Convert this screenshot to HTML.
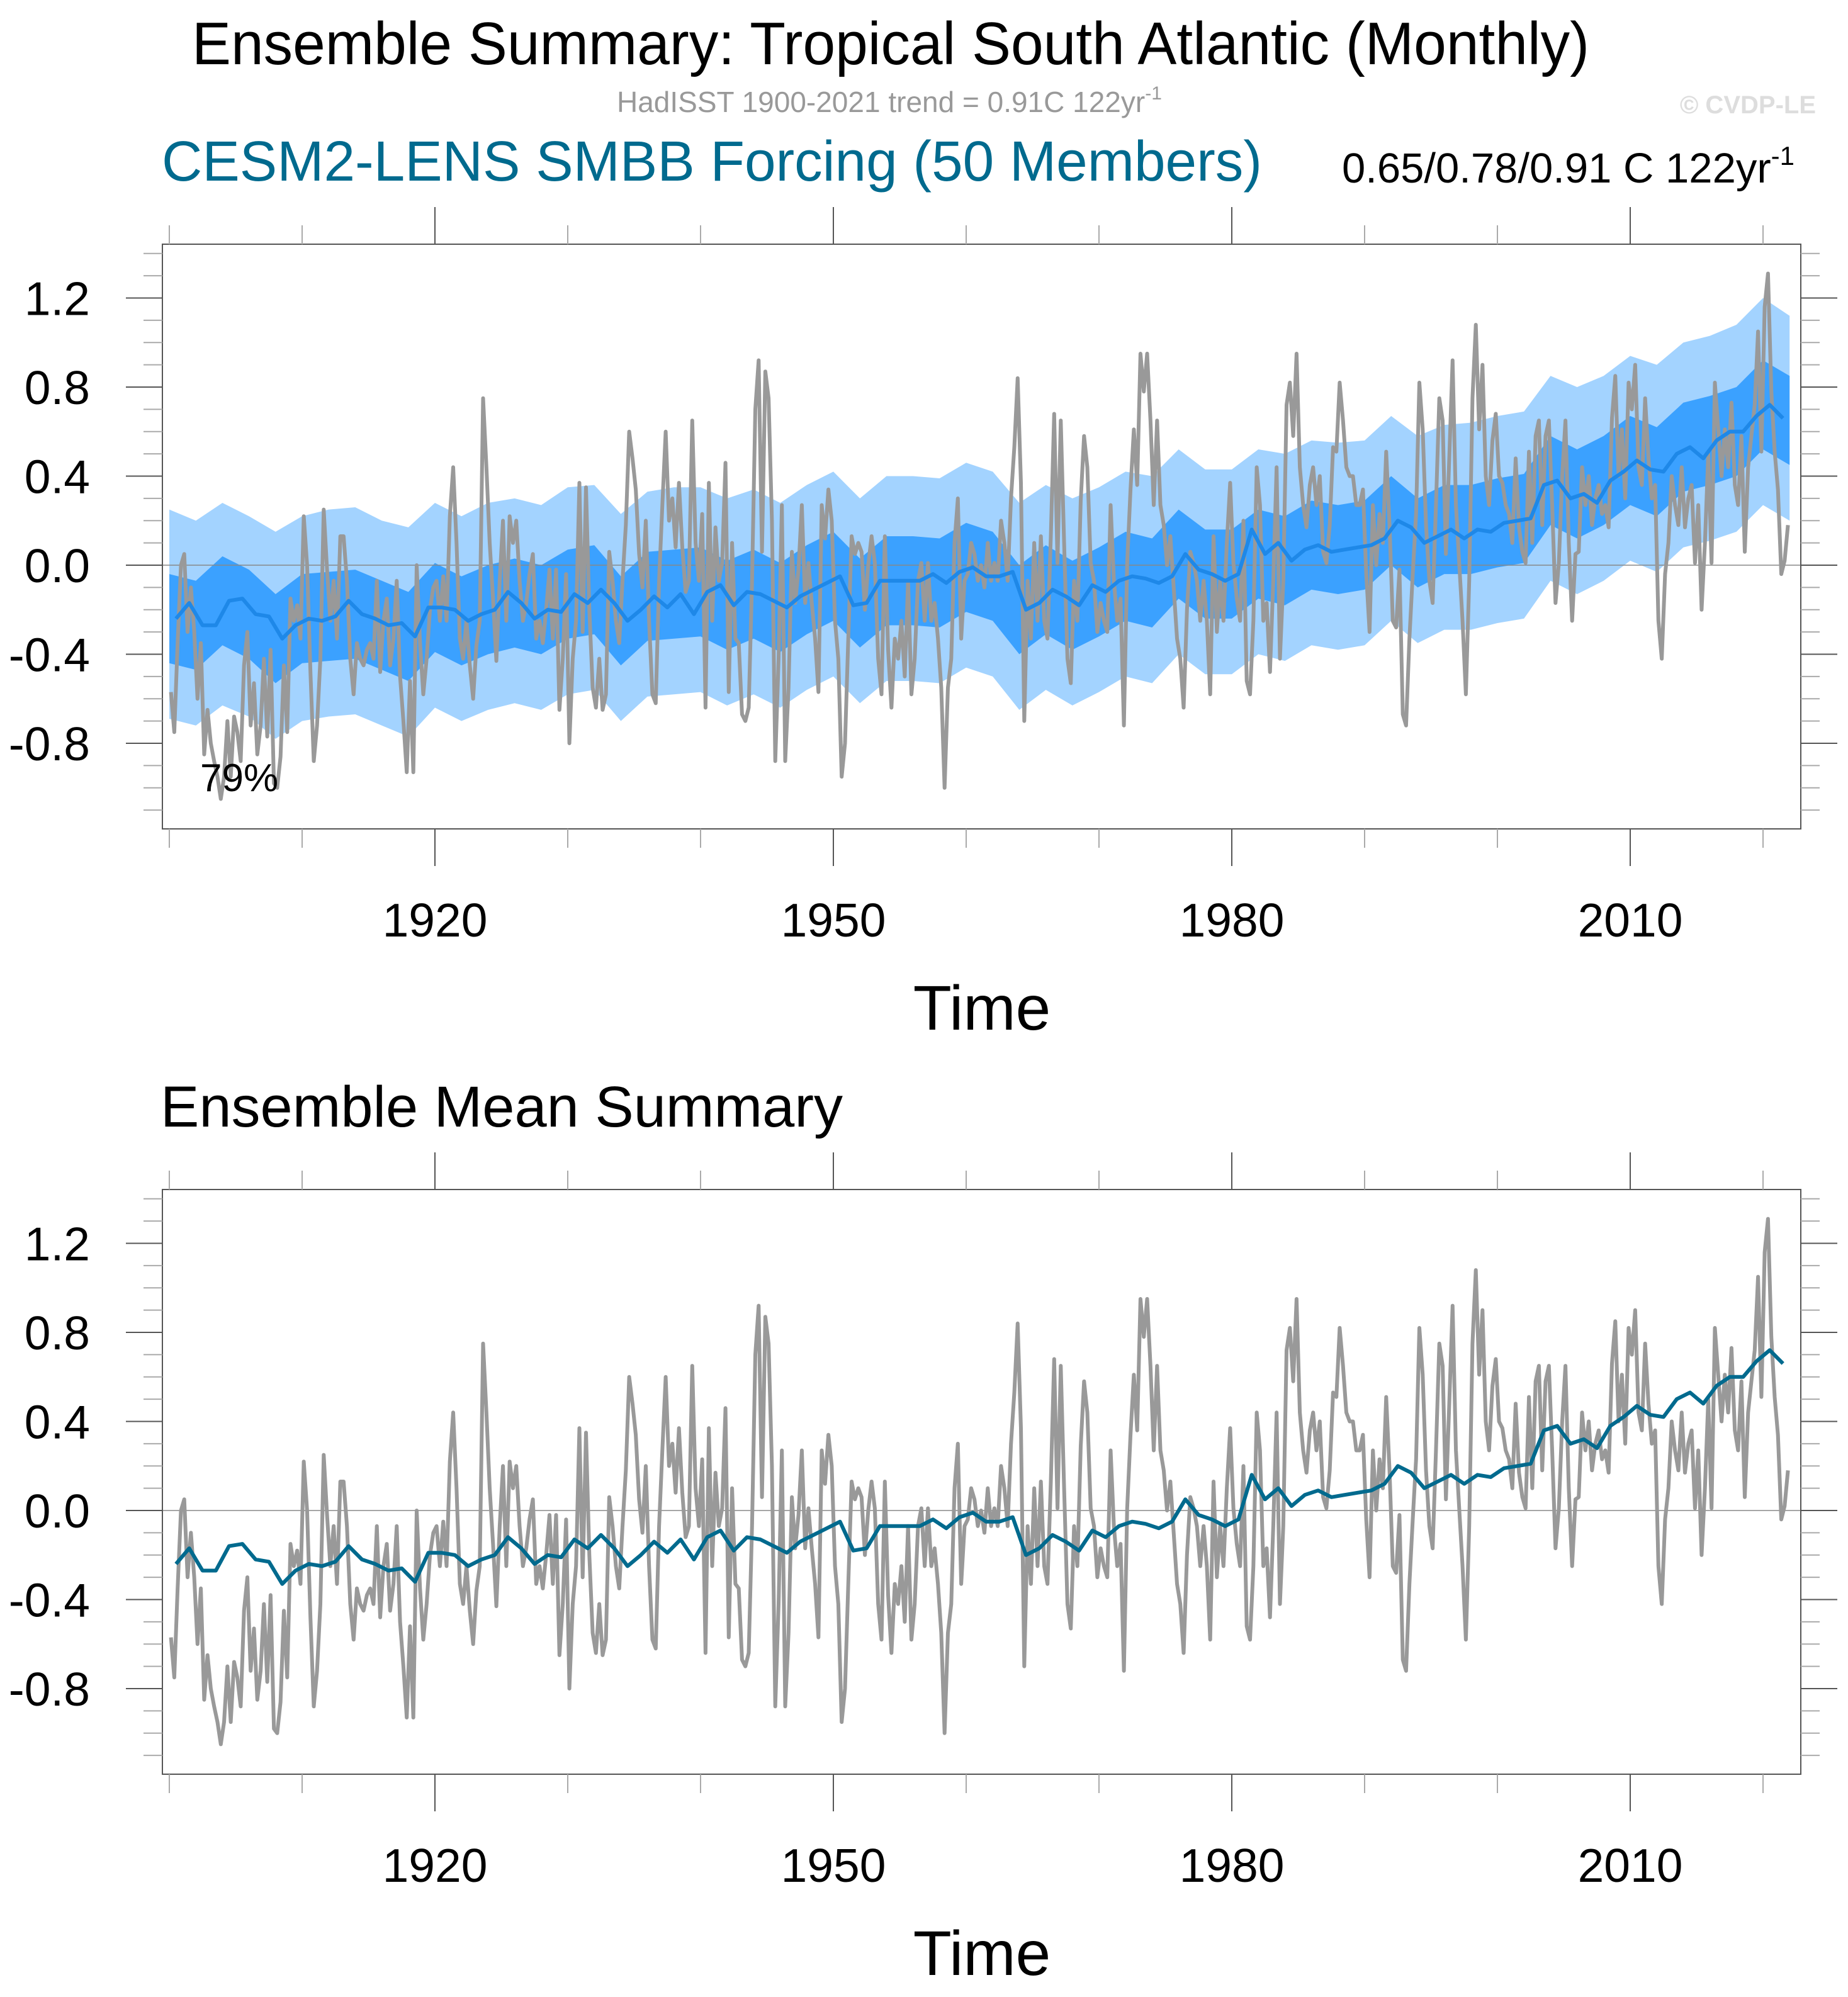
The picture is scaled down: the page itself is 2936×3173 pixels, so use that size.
<!DOCTYPE html>
<html><head><meta charset="utf-8"><style>
html,body{margin:0;padding:0;background:#fff;}
svg{display:block;font-family:"Liberation Sans",Arial,sans-serif;}
</style></head><body>
<svg id="chart" width="2936" height="3173" viewBox="0 0 2936 3173" xmlns="http://www.w3.org/2000/svg">
<rect width="2936" height="3173" fill="#fff"/>
<text x="305" y="102" font-size="96" textLength="2220" lengthAdjust="spacingAndGlyphs">Ensemble Summary: Tropical South Atlantic (Monthly)</text>
<text x="980" y="178" font-size="46" fill="#999">HadISST 1900-2021 trend = 0.91C 122yr<tspan font-size="30" dy="-20">-1</tspan></text>
<text x="2885" y="180" font-size="40" font-weight="bold" fill="#ddd" text-anchor="end">© CVDP-LE</text>
<text x="257" y="287" font-size="90" fill="#006a8e" textLength="1748" lengthAdjust="spacingAndGlyphs">CESM2-LENS SMBB Forcing (50 Members)</text>
<text x="2132" y="290" font-size="67">0.65/0.78/0.91 C 122yr<tspan font-size="42" dy="-28">-1</tspan></text>
<text x="255" y="1790" font-size="92">Ensemble Mean Summary</text>
<g id="p1"></g><g id="p2"></g>
</svg>
<script>
const yearStart = 1900;
const yTicks = [-0.8,-0.4,0.0,0.4,0.8,1.2];
const yTickLabels = ["-0.8","-0.4","0.0","0.4","0.8","1.2"];
const xTickYears = [1900,1910,1920,1930,1940,1950,1960,1970,1980,1990,2000,2010,2020];
const xLabelYears = [1920,1950,1980,2010];
const obsQuarterly = [
-0.57,-0.75,-0.35,0.0, 0.05,-0.3,-0.1,-0.3, -0.6,-0.35,-0.85,-0.65, -0.8,-0.88,-0.95,-1.05, -0.95,-0.7,-0.95,-0.68,
-0.75,-0.88,-0.45,-0.3, -0.72,-0.53,-0.85,-0.72, -0.42,-0.77,-0.38,-0.98, -1.0,-0.86,-0.45,-0.75, -0.15,-0.25,-0.18,-0.33,
0.22,0.0,-0.48,-0.88, -0.72,-0.42,0.25,-0.02, -0.25,-0.07,-0.33,0.13, 0.13,-0.07,-0.42,-0.58, -0.35,-0.42,-0.45,-0.38,
-0.35,-0.42,-0.07,-0.48, -0.25,-0.15,-0.45,-0.33, -0.07,-0.5,-0.7,-0.93, -0.52,-0.93,0.0,-0.35, -0.58,-0.42,-0.2,-0.1,
-0.07,-0.25,-0.05,-0.25, 0.22,0.44,0.1,-0.33, -0.42,-0.25,-0.45,-0.6, -0.36,-0.25,0.75,0.44, 0.1,-0.15,-0.43,-0.07,
0.2,-0.25,0.22,0.1, 0.2,-0.07,-0.25,-0.17, -0.04,0.05,-0.33,-0.25, -0.35,-0.2,-0.02,-0.33, -0.02,-0.65,-0.42,-0.04,
-0.8,-0.42,-0.25,0.37, -0.3,0.35,-0.2,-0.55, -0.64,-0.42,-0.65,-0.58, 0.06,-0.07,-0.25,-0.35, -0.07,0.18,0.6,0.48,
0.34,0.05,-0.1,0.2, -0.25,-0.58,-0.62,-0.07, 0.27,0.6,0.2,0.3, 0.08,0.37,0.08,-0.12, -0.07,0.65,0.1,-0.07,
0.23,-0.64,0.37,-0.25, 0.17,-0.07,0.01,0.46, -0.57,0.1,-0.33,-0.35, -0.67,-0.7,-0.64,-0.07, 0.7,0.92,0.06,0.87,
0.75,0.2,-0.88,-0.42, 0.27,-0.88,-0.55,0.06, -0.17,-0.02,0.27,-0.17, 0.01,-0.17,-0.33,-0.57, 0.27,0.12,0.34,0.2,
-0.25,-0.42,-0.95,-0.8, -0.33,0.13,0.05,0.1, 0.06,-0.2,0.0,0.13, 0.01,-0.42,-0.58,0.13, -0.38,-0.64,-0.33,-0.42,
-0.25,-0.5,-0.07,-0.58, -0.42,-0.07,0.01,-0.25, 0.01,-0.25,-0.17,-0.33, -0.55,-1.0,-0.55,-0.42, 0.1,0.3,-0.33,-0.07,
-0.04,0.1,0.05,-0.07, 0.0,-0.1,0.1,-0.07, 0.01,-0.07,0.2,0.1, -0.07,0.3,0.53,0.84, 0.37,-0.7,-0.07,-0.33,
0.1,-0.25,0.13,-0.25, -0.33,0.13,0.68,0.01, 0.65,0.1,-0.42,-0.53, -0.07,-0.25,0.29,0.58, 0.44,0.01,-0.07,-0.3,
-0.17,-0.25,-0.3,0.27, -0.07,-0.25,-0.15,-0.72, 0.01,0.34,0.61,0.36, 0.95,0.78,0.95,0.65, 0.27,0.65,0.27,0.18,
0.0,0.13,-0.1,-0.33, -0.42,-0.64,-0.2,0.06, 0.01,-0.07,-0.25,-0.07, -0.25,-0.58,0.13,-0.3, -0.07,-0.25,0.1,0.37,
0.01,-0.15,-0.25,0.2, -0.52,-0.58,-0.25,0.44, 0.27,-0.25,-0.17,-0.48, -0.07,0.44,-0.42,-0.07, 0.72,0.82,0.58,0.95,
0.44,0.27,0.17,0.36, 0.44,0.27,0.4,0.06, 0.01,0.18,0.53,0.51, 0.82,0.65,0.44,0.4, 0.4,0.27,0.27,0.34,
-0.04,-0.3,0.27,0.0, 0.23,0.1,0.51,0.18, -0.25,-0.28,-0.02,-0.67, -0.72,-0.33,-0.04,0.23, 0.82,0.61,0.18,-0.07,
-0.17,0.27,0.75,0.65, 0.05,0.48,0.92,0.27, 0.01,-0.25,-0.58,-0.07, 0.75,1.08,0.61,0.9, 0.4,0.27,0.56,0.68,
0.4,0.37,0.27,0.23, 0.1,0.48,0.17,0.06, 0.01,0.51,0.1,0.58, 0.65,0.18,0.58,0.65, 0.27,-0.17,0.01,0.4,
0.65,0.1,-0.25,0.05, 0.06,0.44,0.27,0.4, 0.18,0.3,0.36,0.23, 0.27,0.17,0.66,0.85, 0.4,0.61,0.3,0.82,
0.7,0.9,0.44,0.36, 0.75,0.48,0.3,0.36, -0.25,-0.42,-0.04,0.1, 0.4,0.27,0.18,0.44, 0.17,0.3,0.36,0.01,
0.27,-0.2,0.1,0.5, 0.01,0.82,0.61,0.4, 0.61,0.44,0.73,0.36, 0.27,0.58,0.06,0.44, 0.58,0.72,1.05,0.51,
1.16,1.31,0.78,0.51, 0.34,-0.04,0.02,0.18];
const ensMeanAnnual = [
-0.24,-0.17,-0.27,-0.27,-0.16,-0.15,-0.22,-0.23,-0.33,-0.27,
-0.24,-0.25,-0.23,-0.16,-0.22,-0.24,-0.27,-0.26,-0.32,-0.19,
-0.19,-0.2,-0.25,-0.22,-0.2,-0.12,-0.17,-0.24,-0.2,-0.21,
-0.13,-0.17,-0.11,-0.17,-0.25,-0.2,-0.14,-0.19,-0.13,-0.22,
-0.12,-0.09,-0.18,-0.12,-0.13,-0.16,-0.19,-0.14,-0.11,-0.08,
-0.05,-0.18,-0.17,-0.07,-0.07,-0.07,-0.07,-0.04,-0.08,-0.03,
-0.01,-0.05,-0.05,-0.03,-0.2,-0.17,-0.11,-0.14,-0.18,-0.09,
-0.12,-0.07,-0.05,-0.06,-0.08,-0.05,0.05,-0.02,-0.04,-0.07,
-0.04,0.16,0.05,0.1,0.02,0.07,0.09,0.06,0.07,0.08,
0.09,0.12,0.2,0.17,0.1,0.13,0.16,0.12,0.16,0.15,
0.19,0.2,0.21,0.36,0.38,0.3,0.32,0.28,0.38,0.42,
0.47,0.43,0.42,0.5,0.53,0.48,0.56,0.6,0.6,0.67,
0.72,0.66];
const bandYears = [1900,1902,1904,1906,1908,1910,1912,1914,1916,1918,1920,1922,1924,1926,1928,1930,1932,1934,1936,1938,1940,1942,1944,1946,1948,1950,1952,1954,1956,1958,1960,1962,1964,1966,1968,1970,1972,1974,1976,1978,1980,1982,1984,1986,1988,1990,1992,1994,1996,1998,2000,2002,2004,2006,2008,2010,2012,2014,2016,2018,2020,2022];
const outerHi = [0.25,0.2,0.28,0.22,0.15,0.22,0.25,0.26,0.2,0.17,0.28,0.22,0.28,0.3,0.27,0.35,0.36,0.23,0.33,0.35,0.35,0.3,0.34,0.28,0.36,0.42,0.3,0.4,0.4,0.39,0.46,0.42,0.28,0.36,0.3,0.35,0.42,0.4,0.52,0.43,0.43,0.52,0.5,0.56,0.55,0.56,0.67,0.58,0.63,0.64,0.67,0.69,0.85,0.8,0.85,0.94,0.9,1.0,1.03,1.08,1.2,1.12];
const innerHi = [-0.04,-0.07,0.04,-0.02,-0.13,-0.04,-0.03,-0.02,-0.07,-0.12,0.01,-0.05,0.0,0.03,0.0,0.07,0.09,-0.05,0.06,0.07,0.08,0.02,0.07,0.01,0.09,0.15,0.03,0.13,0.13,0.12,0.19,0.15,0.0,0.09,0.02,0.08,0.15,0.12,0.25,0.16,0.16,0.25,0.22,0.29,0.27,0.29,0.4,0.3,0.36,0.36,0.39,0.41,0.58,0.52,0.58,0.67,0.62,0.73,0.76,0.8,0.92,0.85];
const innerLo = [-0.44,-0.47,-0.36,-0.42,-0.53,-0.44,-0.43,-0.42,-0.47,-0.52,-0.39,-0.45,-0.4,-0.37,-0.4,-0.33,-0.31,-0.45,-0.34,-0.33,-0.32,-0.38,-0.33,-0.39,-0.31,-0.25,-0.37,-0.27,-0.27,-0.28,-0.21,-0.25,-0.4,-0.31,-0.38,-0.32,-0.25,-0.28,-0.15,-0.24,-0.24,-0.15,-0.18,-0.11,-0.13,-0.11,0.0,-0.1,-0.04,-0.04,-0.01,0.01,0.18,0.12,0.18,0.27,0.22,0.33,0.36,0.4,0.52,0.45];
const outerLo = [-0.69,-0.72,-0.63,-0.68,-0.78,-0.7,-0.68,-0.67,-0.72,-0.77,-0.64,-0.7,-0.65,-0.62,-0.65,-0.58,-0.56,-0.7,-0.59,-0.58,-0.57,-0.63,-0.58,-0.64,-0.56,-0.5,-0.62,-0.52,-0.52,-0.53,-0.46,-0.5,-0.65,-0.56,-0.63,-0.57,-0.5,-0.53,-0.4,-0.49,-0.49,-0.4,-0.43,-0.36,-0.38,-0.36,-0.25,-0.35,-0.29,-0.29,-0.26,-0.24,-0.07,-0.13,-0.07,0.02,-0.03,0.08,0.11,0.15,0.27,0.2];

const NS = "http://www.w3.org/2000/svg";
const L = 258, R = 2861, X0 = 269, PX_PER_YEAR = 21.1, PX_PER_UNIT = 353.75;
function xs(yr){ return X0 + (yr - yearStart) * PX_PER_YEAR; }
function mk(tag, attrs, parent){
  const e = document.createElementNS(NS, tag);
  for (const k in attrs) e.setAttribute(k, attrs[k]);
  parent.appendChild(e); return e;
}
function clampX(x){ return Math.min(Math.max(x, L), R); }
function linePath(xv, yv, ys){
  return xv.map((v,i)=>(i?"L":"M")+clampX(xs(v)).toFixed(1)+","+ys(yv[i]).toFixed(1)).join("");
}
function bandPath(xv, hi, lo, ys){
  let d = xv.map((v,i)=>(i?"L":"M")+clampX(xs(v)).toFixed(1)+","+ys(hi[i]).toFixed(1)).join("");
  for (let i = xv.length-1; i >= 0; i--) d += "L"+clampX(xs(xv[i])).toFixed(1)+","+ys(lo[i]).toFixed(1);
  return d + "Z";
}
function drawPanel(g, off, withBands){
  const T = 388 + off, B = 1317 + off, Z = 898 + off;
  const ys = v => Z - v * PX_PER_UNIT;
  const obsX = obsQuarterly.map((v,i)=> yearStart + i/4 + 0.125);
  const meanX = ensMeanAnnual.map((v,i)=> yearStart + i + 0.5);
  if (withBands){
    const ob = mk("path", {d: bandPath(bandYears, outerHi, outerLo, ys), fill:"#a3d3ff"}, g);
    
    
    const ib = mk("path", {d: bandPath(bandYears, innerHi, innerLo, ys), fill:"#3ba1ff"}, g);
    
    
  }
  const zl = mk("line", {x1:L, x2:R, y1:ys(0), y2:ys(0), stroke:"#888", "stroke-width":1.6}, g);
  
  
  const ol = mk("path", {d: linePath(obsX, obsQuarterly, ys), fill:"none", stroke:"#999", "stroke-width":6, "stroke-linejoin":"round"}, g);
  
  
  const ml = mk("path", {d: linePath(meanX, ensMeanAnnual, ys), fill:"none", stroke: withBands ? "#1e88e8" : "#006a8e", "stroke-width":6, "stroke-linejoin":"round"}, g);
  
  
  const fr = mk("rect", {x:L, y:T, width:R-L, height:B-T, fill:"none", stroke:"#555", "stroke-width":2}, g);
  
  
  for (let k = -11; k <= 14; k++){
    const v = k/10, y = ys(v);
    if (y < T || y > B) continue;
    const major = (k % 4 === 0);
    const len = major ? 58 : 30;
    const c = major ? "#555" : "#aaa";
    const t1 = mk("line", {x1:L-len, x2:L, y1:y, y2:y, stroke:c, "stroke-width":2}, g);
    
    
    const t2 = mk("line", {x1:R, x2:R+len, y1:y, y2:y, stroke:c, "stroke-width":2}, g);
    
    
  }
  yTicks.forEach((v,i)=>{
    const t = mk("text", {x:143, y:ys(v)+27, "font-size":75, "text-anchor":"end"}, g);
    t.textContent = yTickLabels[i];
    
    
  });
  xTickYears.forEach(yr=>{
    const x = xs(yr), major = xLabelYears.includes(yr);
    const len = major ? 59 : 30, c = major ? "#555" : "#aaa";
    const a = mk("line", {x1:x, x2:x, y1:T-len, y2:T, stroke:c, "stroke-width":2}, g);
    
    
    const b = mk("line", {x1:x, x2:x, y1:B, y2:B+len, stroke:c, "stroke-width":2}, g);
    
    
  });
  xLabelYears.forEach(yr=>{
    const t = mk("text", {x:xs(yr), y:1488+off, "font-size":75, "text-anchor":"middle"}, g);
    t.textContent = String(yr);
    
    
  });
  const xt = mk("text", {x:1560, y:1636+off, "font-size":100, "text-anchor":"middle"}, g);
  xt.textContent = "Time";
  
  
  if (withBands){
    const pc = mk("text", {x:318, y:1257, "font-size":62}, g);
    pc.textContent = "79%";
    
    
  }
}
drawPanel(document.getElementById("p1"), 0, true);
drawPanel(document.getElementById("p2"), 1502, false);
</script>
</body></html>
